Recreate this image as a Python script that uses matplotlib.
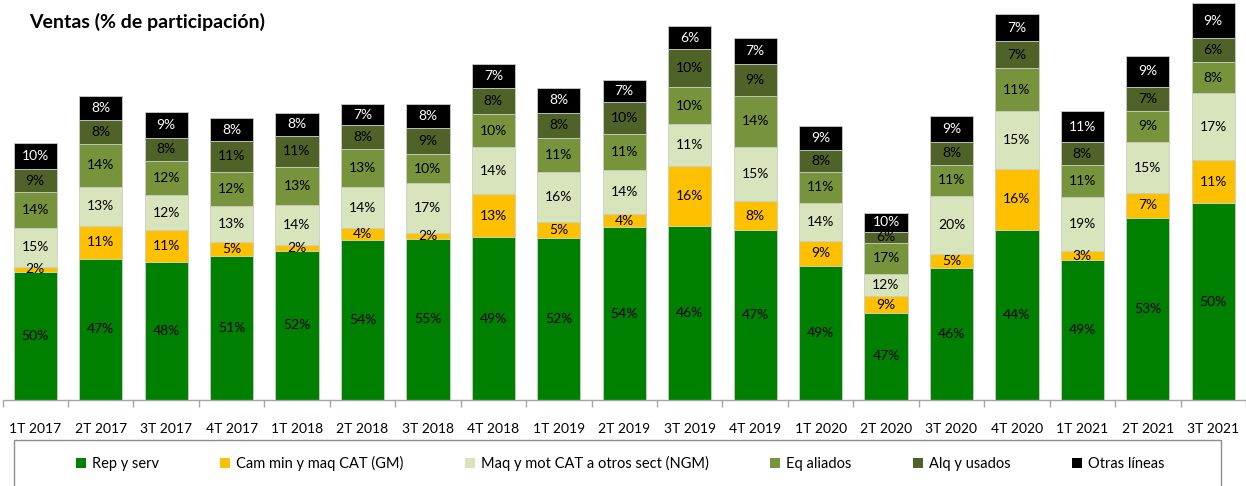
import matplotlib
matplotlib.use('Agg')
import matplotlib.pyplot as plt
from matplotlib.patches import Rectangle, Patch
import numpy as np

plt.rcParams['font.family'] = ['Lato', 'DejaVu Sans']

categories = ['1T 2017', '2T 2017', '3T 2017', '4T 2017', '1T 2018', '2T 2018', '3T 2018',
              '4T 2018', '1T 2019', '2T 2019', '3T 2019', '4T 2019', '1T 2020', '2T 2020',
              '3T 2020', '4T 2020', '1T 2021', '2T 2021', '3T 2021']

# share of each line (%) as labelled
rep_serv = [50, 47, 48, 51, 52, 54, 55, 49, 52, 54, 46, 47, 49, 47, 46, 44, 49, 53, 50]
cam_min = [2, 11, 11, 5, 2, 4, 2, 13, 5, 4, 16, 8, 9, 9, 5, 16, 3, 7, 11]
maq_mot = [15, 13, 12, 13, 14, 14, 17, 14, 16, 14, 11, 15, 14, 12, 20, 15, 19, 15, 17]
eq_aliados = [14, 14, 12, 12, 13, 13, 10, 10, 11, 11, 10, 14, 11, 17, 11, 11, 11, 9, 8]
alq_usados = [9, 8, 8, 11, 11, 8, 9, 8, 8, 10, 10, 9, 8, 6, 8, 7, 8, 7, 6]
otras = [10, 8, 9, 8, 8, 7, 8, 7, 8, 7, 6, 7, 9, 10, 9, 7, 11, 9, 9]

# relative total sales (bar height, arbitrary units)
totals = [256.7, 303.7, 288.3, 281.7, 287.3, 295.7, 295.7, 335.7, 312.3, 320.0,
          373.7, 361.7, 274.3, 187.0, 284.3, 385.7, 289.0, 344.3, 397.0]

series_names = ['Rep y serv', 'Cam min y maq CAT (GM)', 'Maq y mot CAT a otros sect (NGM)',
                'Eq aliados', 'Alq y usados', 'Otras líneas']
colors = ['#008000', '#FFC000', '#D8E4BC', '#77933C', '#4F6228', '#000000']
label_colors = ['#000000', '#000000', '#000000', '#000000', '#000000', '#FFFFFF']

series = [rep_serv, cam_min, maq_mot, eq_aliados, alq_usados, otras]
pct = np.array(series, dtype=float)
tot = np.array(totals)
heights = pct / pct.sum(axis=0) * tot

W, H = 1246, 486
fig = plt.figure(figsize=(W / 100, H / 100), dpi=100)
ax = fig.add_axes([2.5 / W, 86 / H, 1 - 2.5 / W, 400 / H])
x = np.arange(len(categories))
bottom = np.zeros(len(categories))
for i, (name, c) in enumerate(zip(series_names, colors)):
    bars = ax.bar(x, heights[i], 0.66, bottom=bottom, color=c, edgecolor='#c9cfc2',
                  linewidth=0.6, label=name, zorder=2)
    for j in range(len(categories)):
        ax.text(x[j], bottom[j] + heights[i][j] / 2, f"{series[i][j]}%", ha='center',
                va='center', fontsize=10, color=label_colors[i], zorder=3)
    bottom += heights[i]

ax.set_xlim(-0.5, len(categories) - 0.5)
ax.set_ylim(0, 400)
for s in ['top', 'right', 'left']:
    ax.spines[s].set_visible(False)
ax.spines['bottom'].set_color('#a6a6a6')
ax.spines['bottom'].set_linewidth(1)
ax.set_yticks([])
ax.set_xticks(x)
ax.set_xticklabels(categories, fontsize=10)
ax.tick_params(axis='x', which='major', length=0, pad=16.5)
ax.set_xticks(np.arange(-0.5, len(categories)), minor=True)
ax.tick_params(axis='x', which='minor', length=5, color='#a6a6a6', width=1)

fig.text(29 / W, 1 - 22 / H, 'Ventas (% de participación)', fontsize=14, fontweight='bold',
         ha='left', va='center')

fig.patches.append(Rectangle((14 / W, -0.1), (1221 - 14) / W, (486 - 440) / H + 0.1,
                             transform=fig.transFigure, fill=False, edgecolor='#8c8c8c',
                             linewidth=1))
handles = [Patch(facecolor=c, edgecolor='none') for c in colors]
fig.legend(handles, series_names, loc='center', bbox_to_anchor=(620 / W, 1 - 463.5 / H),
           ncol=6, frameon=False, fontsize=10.5, handlelength=0.7, handleheight=0.7,
           handletextpad=0.4, columnspacing=4.2)

fig.savefig('out.png', dpi=100)
